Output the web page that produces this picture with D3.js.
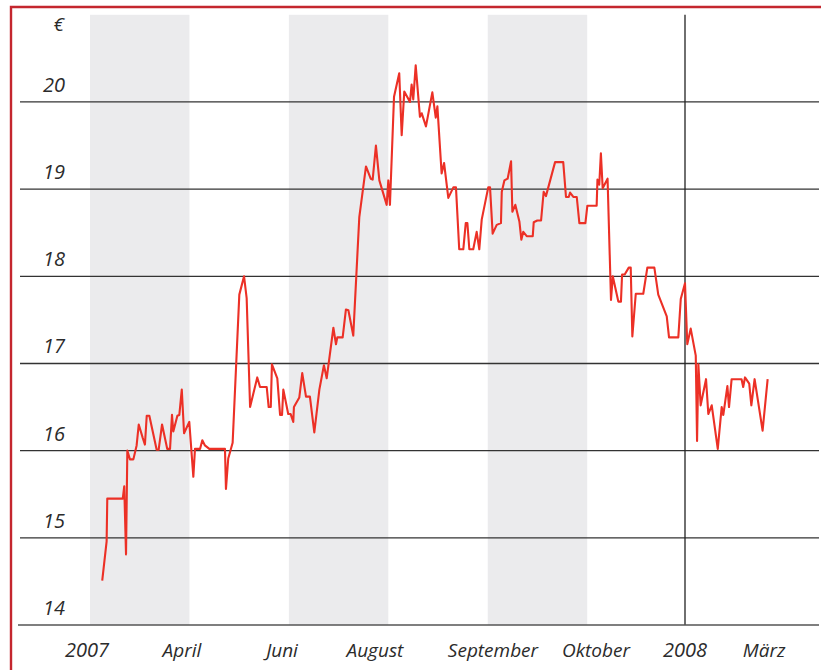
<!DOCTYPE html>
<html>
<head>
<meta charset="utf-8">
<script src="https://cdn.jsdelivr.net/npm/d3@7"></script>
<style>
  body { margin: 0; background: #fff; }
  text { font-family: "Open Sans", sans-serif; font-style: italic; fill: #2b2b2b; }
</style>
</head>
<body>
<script>
// Days since 1 Jan 2007 and closing price in euro
const days = [7.5, 10.2, 10.6, 20.1, 21.0, 22.1, 22.9, 24.5, 26.6, 28.6, 29.9, 32.3, 33.7, 34.8, 36.4, 40.9, 42.1, 44.2, 47.4, 49.1,
  50.3, 51.1, 53.6, 54.8, 56.3, 57.7, 60.9, 63.4, 64.4, 67.5, 68.9, 70.5, 73.2, 82.8, 83.4, 84.8, 87.5, 91.6, 94.5, 96.1,
  98.2, 102.6, 104.3, 108.4, 109.6, 110.9, 111.6, 114.9, 116.6, 117.8, 118.6, 121.6, 123.1, 124.7, 125.1, 128.4, 130.2, 132.5, 134.9, 137.6,
  140.7, 143.5, 145.2, 149.3, 150.9, 151.7, 155.0, 157.0, 158.5, 161.5, 165.2, 169.3, 172.2, 173.4, 175.4, 177.5, 182.0, 183.0, 184.0, 186.5,
  189.7, 191.2, 192.8, 196.3, 197.3, 198.3, 199.8, 202.4, 203.5, 206.1, 210.0, 212.1, 213.1, 215.7, 217.2, 219.8, 222.9, 224.5, 226.5, 229.0,
  230.5, 231.5, 232.7, 235.1, 237.2, 238.8, 240.3, 244.3, 245.4, 247.0, 249.5, 252.1, 252.6, 254.2, 256.2, 258.3, 259.1, 260.9, 263.4, 264.6,
  265.8, 267.9, 271.6, 272.2, 274.4, 276.7, 278.3, 279.7, 285.3, 290.3, 292.0, 293.7, 294.5, 296.5, 298.6, 300.2, 303.9, 305.1, 310.8, 311.3,
  312.4, 313.4, 314.5, 317.5, 319.6, 320.7, 324.1, 325.7, 326.4, 328.0, 330.5, 331.7, 332.7, 334.8, 339.4, 341.9, 346.2, 348.6, 353.8, 355.2,
  360.9, 362.4, 365.0, 366.4, 368.5, 371.6, 372.4, 373.2, 374.6, 377.9, 379.3, 381.4, 385.1, 387.5, 388.5, 391.0, 392.0, 393.6, 399.7, 400.7,
  401.8, 404.4, 405.7, 407.7, 412.6, 415.7];
const prices = [14.51, 14.96, 15.45, 15.45, 15.59, 14.81, 16.00, 15.90, 15.90, 16.06, 16.30, 16.15, 16.07, 16.40, 16.40, 16.01, 16.01, 16.30, 16.02, 16.02,
  16.41, 16.22, 16.40, 16.41, 16.70, 16.20, 16.33, 15.70, 16.02, 16.02, 16.12, 16.06, 16.02, 16.02, 15.56, 15.91, 16.09, 17.79, 18.00, 17.75,
  16.50, 16.84, 16.73, 16.73, 16.50, 16.50, 16.99, 16.83, 16.41, 16.41, 16.70, 16.42, 16.42, 16.33, 16.50, 16.61, 16.89, 16.62, 16.62, 16.21,
  16.70, 16.98, 16.83, 17.41, 17.22, 17.30, 17.30, 17.62, 17.61, 17.32, 18.68, 19.26, 19.12, 19.11, 19.50, 19.10, 18.82, 19.10, 18.82, 20.06,
  20.33, 19.62, 20.12, 20.00, 20.20, 20.03, 20.42, 19.83, 19.87, 19.72, 20.11, 19.82, 19.95, 19.18, 19.30, 18.90, 19.02, 19.02, 18.31, 18.31,
  18.61, 18.61, 18.31, 18.31, 18.51, 18.31, 18.65, 19.02, 19.02, 18.49, 18.59, 18.61, 18.97, 19.10, 19.12, 19.32, 18.74, 18.82, 18.63, 18.42,
  18.51, 18.46, 18.46, 18.62, 18.64, 18.64, 18.97, 18.92, 19.31, 19.31, 18.91, 18.91, 18.96, 18.91, 18.91, 18.61, 18.61, 18.81, 18.81, 19.11,
  19.05, 19.41, 19.01, 19.12, 17.73, 18.00, 17.71, 17.71, 18.02, 18.02, 18.10, 18.10, 17.31, 17.80, 17.80, 18.10, 18.10, 17.79, 17.54, 17.30,
  17.30, 17.74, 17.92, 17.22, 17.40, 17.09, 16.11, 16.99, 16.52, 16.82, 16.42, 16.52, 16.02, 16.50, 16.41, 16.74, 16.50, 16.82, 16.82, 16.73,
  16.84, 16.77, 16.52, 16.82, 16.23, 16.82];

// Shaded two-month periods (days since 1 Jan 2007)
const bands = [[0, 61], [122, 183], [244, 305]];
// Axis labels
const yTicks = [14, 15, 16, 17, 18, 19, 20];
const xTickLabels = ["2007", "April", "Juni", "August", "September", "Oktober", "2008", "März"];
const xTickDays = [-1.8, 56.4, 117.8, 174.8, 247.2, 310.4, 365, 413.5];
const yearBreak = 365;

const width = 821, height = 670;

const svg = d3.select('body').append('svg')
  .attr('width', width)
  .attr('height', height);

// Scales: 1 Jan 2007 -> 90px, 1 Jan 2008 -> 685px
const x = d3.scaleLinear().domain([0, 365]).range([90, 685]);
const y = d3.scaleLinear().domain([14, 21]).range([625, 14.8]);

// Grey bands
svg.append('g').selectAll('rect')
  .data(bands)
  .join('rect')
  .attr('x', d => x(d[0]))
  .attr('y', y(21))
  .attr('width', d => x(d[1]) - x(d[0]))
  .attr('height', y(14) - y(21))
  .attr('fill', '#ebebed');

// Horizontal grid lines
svg.append('g').selectAll('line')
  .data(yTicks.filter(d => d > 14))
  .join('line')
  .attr('x1', 20).attr('x2', 819)
  .attr('y1', d => y(d)).attr('y2', d => y(d))
  .attr('stroke', '#333').attr('stroke-width', 1.3);

// Year boundary
svg.append('line')
  .attr('x1', x(yearBreak)).attr('x2', x(yearBreak))
  .attr('y1', y(21)).attr('y2', y(14))
  .attr('stroke', '#222').attr('stroke-width', 1.3);

// Bottom axis line
svg.append('line')
  .attr('x1', 18).attr('x2', 819)
  .attr('y1', y(14)).attr('y2', y(14))
  .attr('stroke', '#555').attr('stroke-width', 1.6);

// Y labels sit above their grid line
svg.append('g').selectAll('text')
  .data(yTicks)
  .join('text')
  .attr('x', 65)
  .attr('y', d => y(d) - 10)
  .attr('text-anchor', 'end')
  .attr('font-size', 20)
  .text(d => d);

svg.append('text')
  .attr('x', 64).attr('y', 31)
  .attr('text-anchor', 'end')
  .attr('font-size', 19)
  .text('€');

// X labels
svg.append('g').selectAll('text')
  .data(xTickLabels)
  .join('text')
  .attr('x', (d, i) => x(xTickDays[i]))
  .attr('y', 657)
  .attr('text-anchor', 'middle')
  .attr('font-size', d => /^\d+$/.test(d) ? 20 : 19)
  .text(d => d);

// Price line
const line = d3.line()
  .x((d, i) => x(days[i]))
  .y(d => y(d));

svg.append('path')
  .datum(prices)
  .attr('d', line)
  .attr('fill', 'none')
  .attr('stroke', '#ec3026')
  .attr('stroke-width', 2.1)
  .attr('stroke-linejoin', 'round');

// Red frame on top and left
svg.append('path')
  .attr('d', 'M11,670 V7 H821')
  .attr('fill', 'none')
  .attr('stroke', '#c4262e')
  .attr('stroke-width', 2.4);
</script>
</body>
</html>
